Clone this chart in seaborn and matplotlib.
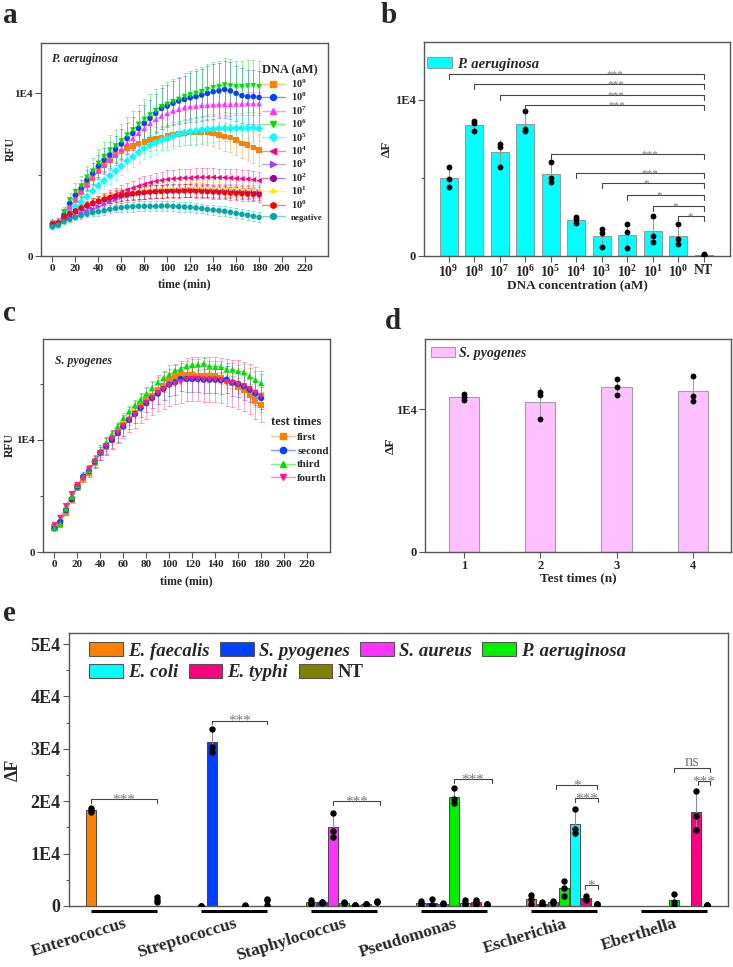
import numpy as np
import pandas as pd
import matplotlib
matplotlib.use("Agg")
import matplotlib.pyplot as plt
import seaborn as sns
from matplotlib.lines import Line2D
from matplotlib.patches import Patch
from matplotlib.ticker import FixedLocator, FixedFormatter
import matplotlib.transforms as mtrans
from matplotlib.colors import to_rgba

sns.set_style("ticks")
plt.rcParams['font.family'] = ['Liberation Serif', 'DejaVu Serif']
plt.rcParams['font.weight'] = 'bold'
plt.rcParams['axes.labelweight'] = 'bold'
plt.rcParams['mathtext.fontset'] = 'custom'
plt.rcParams['mathtext.rm'] = 'Liberation Serif'
plt.rcParams['mathtext.bf'] = 'Liberation Serif:bold'
plt.rcParams['mathtext.it'] = 'Liberation Serif:italic'

# ---------------- data: panel a (P. aeruginosa kinetics) ----------------
time_min = list(range(0, 181, 5))
a_labels = ['10^9', '10^8', '10^7', '10^6', '10^5', '10^4', '10^3', '10^2', '10^1', '10^0', 'negative']
a_1e9 = [2000,2000,2410,2920,3440,3890,4360,4760,5210,5580,5890,6200,6400,6610,6750,6910,7010,7120,7220,7280,7360,7420,7480,7530,7570,7590,7610,7590,7530,7420,7320,7260,7120,6910,6810,6670,6500]
a_1e8 = [1960,1960,2520,3230,3740,4150,4660,5070,5520,5890,6200,6540,6870,7220,7530,7830,8140,8450,8750,9060,9200,9370,9510,9610,9710,9780,9880,9980,10080,10140,10220,10140,9980,9840,9780,9780,9730]
a_1e7 = [2110,2210,2410,3030,3480,3950,4360,4830,5210,5580,5890,6200,6540,6910,7220,7530,7830,8140,8380,8590,8750,8900,9000,9100,9160,9200,9240,9260,9280,9300,9310,9310,9330,9330,9350,9350,9350]
a_1e6 = [2000,2000,2720,3440,3950,4290,4830,5210,5690,6090,6500,6750,7060,7420,7730,8080,8380,8650,8920,9160,9300,9470,9610,9780,9880,9980,10080,10220,10330,10390,10490,10430,10390,10390,10430,10450,10390]
a_1e5 = [1800,1900,2210,2620,3030,3330,3640,3990,4310,4620,4930,5210,5520,5830,6090,6360,6610,6810,6950,7120,7220,7360,7480,7570,7630,7670,7730,7770,7790,7830,7830,7830,7830,7850,7850,7870,7830]
a_1e4 = [2000,2000,2310,2520,2720,2880,3030,3190,3330,3480,3640,3780,3910,4050,4170,4290,4400,4500,4580,4640,4700,4740,4760,4790,4790,4830,4830,4830,4830,4810,4810,4790,4760,4740,4720,4680,4620]
a_1e3 = [1900,1950,2150,2300,2450,2590,2720,2880,3030,3180,3330,3460,3600,3680,3760,3830,3890,3920,3950,3970,3990,4010,4030,4040,4050,4050,4050,4040,4030,4020,4010,4000,3990,3970,3960,3950,3930]
a_1e2 = [1950,1980,2350,2560,2740,2920,3080,3220,3350,3460,3560,3650,3720,3780,3830,3870,3900,3930,3960,3980,4000,4010,4020,4020,4020,4010,4000,3990,3980,3960,3950,3930,3910,3890,3870,3850,3830]
a_1e1 = [1980,2000,2400,2600,2780,2960,3120,3270,3400,3520,3630,3720,3800,3870,3920,3970,4010,4050,4080,4100,4120,4130,4140,4150,4150,4150,4140,4140,4130,4120,4110,4100,4090,4080,4070,4060,4050]
a_1e0 = [1960,2040,2410,2620,2780,2970,3130,3270,3390,3500,3600,3680,3740,3800,3840,3890,3910,3930,3950,3950,3970,3970,3970,3990,3990,3970,3950,3930,3910,3890,3870,3840,3820,3800,3780,3760,3740]
a_neg = [1800,1900,2110,2250,2370,2470,2580,2660,2720,2780,2860,2920,2970,3010,3030,3050,3050,3050,3050,3070,3070,3050,3030,3010,2990,2950,2910,2860,2820,2780,2740,2680,2620,2560,2500,2440,2370]

e_1e9 = [150,150,200,250,300,350,400,450,500,550,550,600,600,650,650,700,700,700,700,700,700,700,700,700,750,750,750,800,800,800,850,850,900,900,950,950,1000]
e_1e8 = [150,200,250,300,400,500,600,650,700,750,800,850,900,950,1000,1050,1100,1150,1200,1250,1300,1350,1400,1450,1500,1550,1600,1650,1700,1700,1750,1750,1700,1700,1650,1650,1650]
e_1e7 = [150,150,200,250,300,350,400,450,500,550,600,600,650,650,700,700,700,700,700,700,700,700,700,700,700,700,700,700,700,700,700,700,700,700,700,700,700]
e_1e6 = [150,200,300,400,500,600,700,800,850,900,950,1000,1050,1100,1150,1200,1250,1300,1300,1350,1350,1400,1400,1450,1450,1500,1500,1550,1600,1600,1650,1650,1600,1600,1600,1600,1600]
e_1e5 = [120,150,200,250,300,350,400,450,450,500,500,550,550,600,600,650,650,700,700,700,700,750,750,750,750,800,800,800,800,800,800,800,800,800,800,800,800]
e_1e4 = [120,120,150,200,250,300,300,350,350,400,400,400,450,450,450,500,500,500,500,500,550,550,550,550,550,550,550,550,550,550,550,550,550,550,550,550,550]
e_1e3 = [100,100,150,150,200,200,250,250,300,300,300,350,350,350,350,400,400,400,400,400,400,400,400,400,400,400,400,400,400,400,400,400,400,400,400,400,400]
e_1e2 = [100,100,150,150,200,200,250,250,300,300,300,350,350,350,350,350,400,400,400,400,400,400,400,400,400,400,400,400,400,400,400,400,400,400,400,400,400]
e_1e1 = [100,120,150,150,200,200,250,250,300,300,300,350,350,350,350,400,400,400,400,400,400,400,400,400,400,400,400,400,400,400,400,400,400,400,400,400,400]
e_1e0 = [100,100,150,150,200,250,250,300,300,300,350,350,350,350,400,400,400,400,400,400,400,400,400,400,400,400,400,400,400,400,400,400,400,400,400,400,400]
e_neg = [100,100,120,150,150,200,200,200,250,250,250,250,300,300,300,300,300,300,300,300,300,300,300,300,300,300,300,300,300,300,300,300,300,300,300,300,300]

# ---------------- data: panel b ----------------
b_conc = ['10^9', '10^8', '10^7', '10^6', '10^5', '10^4', '10^3', '10^2', '10^1', '10^0', 'NT']
b_rep1 = [5700, 8620, 7170, 9260, 6040, 2490, 1720, 2020, 2550, 2020, 150]
b_rep2 = [4910, 8510, 6980, 8150, 4960, 2340, 1450, 1510, 1280, 1090, 85]
b_rep3 = [4400, 7980, 5700, 8000, 4700, 2130, 600, 490, 870, 740, 40]
b_sig = ['***', '***', '***', '***', '***', '***', '*', '*', '*', '*']
b_sig_y = [11620, 10980, 10320, 9680, 6510, 5320, 4640, 3910, 3210, 2570]

# ---------------- data: panel c (S. pyogenes repeatability) ----------------
c_labels = ['first', 'second', 'third', 'fourth']
c_first = [2180,2390,3490,4630,5820,6570,7070,7910,8810,9400,10000,10600,11340,11790,12390,12990,13580,13940,14480,14780,15310,15610,15760,15820,15820,15730,15730,15670,15730,15520,15220,15070,14690,14480,14030,13520,13130]
c_second = [2090,2690,3730,4720,5820,6720,7220,8060,8870,9460,10000,10600,11190,11790,12300,12840,13280,13730,14120,14540,14930,15130,15430,15430,15430,15430,15370,15370,15370,15310,15370,15130,14990,14780,14480,14120,13730]
c_third = [2180,2540,3880,4930,5970,6720,7310,8210,9010,9760,10510,11190,11940,12540,13070,13580,14120,14630,15130,15520,15820,16180,16330,16570,16690,16720,16810,16570,16510,16510,16270,16270,16120,16030,15670,15370,15070]
c_fourth = [2390,3040,4090,5160,5970,6570,7370,8060,8810,9460,10060,10600,11190,11790,12240,12840,13280,13730,14180,14480,14840,14990,15160,15370,15430,15430,15370,15370,15370,15280,15130,15070,14930,14780,14540,14180,13880]
ce_first = [100,150,200,250,250,300,300,350,350,400,400,400,400,450,450,450,500,500,500,500,500,500,550,550,550,550,550,550,550,550,550,550,550,600,600,600,600]
ce_second = [100,150,200,250,300,400,500,600,700,800,800,800,800,800,800,800,800,900,900,1000,1000,1100,1100,1200,1200,1200,1200,1200,1200,1200,1200,1200,1200,1200,1100,1000,1000]
ce_third = [100,150,200,250,300,300,350,350,400,400,400,450,450,450,500,500,500,500,500,500,500,500,500,500,500,500,500,500,500,500,600,600,600,700,700,800,800]
ce_fourth = [100,150,200,250,300,350,400,500,600,700,800,900,1000,1100,1200,1300,1400,1500,1600,1700,1800,1800,1900,1900,2000,2000,2000,2000,2000,2000,2100,2100,2200,2200,2200,2300,2300]

# ---------------- data: panel d ----------------
d_test = ['1', '2', '3', '4']
d_rep1 = [11050, 11240, 12150, 12320]
d_rep2 = [10890, 11030, 11590, 10960]
d_rep3 = [10660, 9320, 11030, 10610]

# ---------------- data: panel e (specificity) ----------------
e_genus = ['Enterococcus', 'Streptococcus', 'Staphylococcus', 'Pseudomonas', 'Escherichia', 'Eberthella']
e_species = ['E. faecalis', 'S. pyogenes', 'S. aureus', 'P. aeruginosa', 'E. coli', 'E. typhi', 'NT']
# replicate values [genus][species] (None = no measurement shown)
e_rep1 = [[18620, None, None, None, None, None, 1700],
          [60, 33740, None, None, 120, None, 1280],
          [1090, 770, 17670, 770, 270, 460, 900],
          [900, 1410, 650, 22450, 1090, 1200, 400],
          [2040, 770, 960, 4780, 18560, 1850, 450],
          [None, None, None, 2360, None, 21940, 250]]
e_rep2 = [[18300, None, None, None, None, None, 1200],
          [40, 30420, None, None, 90, None, 1100],
          [650, 700, 14300, 650, 250, 400, 850],
          [600, 200, 450, 20340, 500, 700, 380],
          [1280, 400, 700, 3510, 14670, 1400, 420],
          [None, None, None, 800, None, 17220, 220]]
e_rep3 = [[17860, None, None, None, None, None, 770],
          [20, 29460, None, None, 60, None, 200],
          [400, 600, 13200, 500, 200, 350, 800],
          [250, 100, 300, 19580, 300, 400, 350],
          [450, 200, 600, 1910, 13970, 1080, 400],
          [None, None, None, 100, None, 14410, 200]]
e_colors = ['#FF8000', '#0040FF', '#FF33FF', '#00F000', '#00FFFF', '#FF0080', '#808000']

# ======================================================================
fig = plt.figure(figsize=(7.33, 9.67), dpi=100)
W, H = 733.0, 967.0
def add_ax(x0, y0, x1, y1):
    return fig.add_axes([x0 / W, 1 - y1 / H, (x1 - x0) / W, (y1 - y0) / H])

SPC = '#555555'
def style(ax, fs):
    for s in ax.spines.values():
        s.set_color(SPC)
        s.set_linewidth(1.0)
    ax.tick_params(which='both', direction='out', color=SPC, width=0.8,
                   top=False, right=False, labelsize=fs, pad=2)
    ax.tick_params(which='major', length=4)
    ax.tick_params(which='minor', length=2.5)

def yticks(ax, major, labels, minor=()):
    ax.yaxis.set_major_locator(FixedLocator(major))
    ax.yaxis.set_major_formatter(FixedFormatter(labels))
    ax.yaxis.set_minor_locator(FixedLocator(list(minor)))

def mt(s):
    if '^' in s:
        b, e = s.split('^')
        return r'$\mathbf{%s^{%s}}$' % (b, e)
    return s

def bracket(ax, x1, x2, y, h, text, tx, fs, dy=-3, color='#444444'):
    ax.plot([x1, x1, x2, x2], [y - h, y, y, y - h], color=color, lw=0.8,
            clip_on=False, zorder=6)
    ax.annotate(text, xy=(tx, y), xytext=(0, dy), textcoords='offset points',
                ha='center', va='baseline', color='#777777', fontsize=fs,
                fontweight='normal', zorder=6)

# ---------------- panel a ----------------
ax = add_ax(41, 43, 328, 256)
a_series = [a_1e9, a_1e8, a_1e7, a_1e6, a_1e5, a_1e4, a_1e3, a_1e2, a_1e1, a_1e0, a_neg]
a_errs = [e_1e9, e_1e8, e_1e7, e_1e6, e_1e5, e_1e4, e_1e3, e_1e2, e_1e1, e_1e0, e_neg]
a_colors = ['#FF8000', '#0040FF', '#FF33FF', '#00E000', '#00FFFF', '#FF0080',
            '#A040FF', '#A000A0', '#FFEE00', '#FF0000', '#00A8A8']
a_markers = ['s', 'o', '^', 'v', 'D', '<', '>', 'o', '*', 'h', 'o']
dfa = pd.concat([pd.DataFrame({'time': time_min, 'RFU': v, 'err': e, 'DNA': lab})
                 for v, e, lab in zip(a_series, a_errs, a_labels)], ignore_index=True)
pal_a = dict(zip(a_labels, a_colors))
for lab, c in zip(a_labels, a_colors):
    sub = dfa[dfa.DNA == lab]
    ax.errorbar(sub.time, sub.RFU, yerr=sub.err, fmt='none', ecolor=c, alpha=0.4,
                elinewidth=0.7, capsize=1.5, capthick=0.7, zorder=1)
sns.lineplot(data=dfa, x='time', y='RFU', hue='DNA', palette=pal_a, alpha=0.45,
             lw=0.9, legend=False, ax=ax, errorbar=None, sort=False, zorder=2)
sns.scatterplot(data=dfa, x='time', y='RFU', hue='DNA', style='DNA', palette=pal_a,
                markers=dict(zip(a_labels, a_markers)), s=16, linewidth=0,
                legend=False, ax=ax, zorder=3)
style(ax, 8)
ax.set_xlim(-10, 240)
ax.set_ylim(0, 13070)
ax.set_xticks(list(range(0, 221, 20)))
yticks(ax, [0, 10000], ['0', '1E4'], [5000])
ax.set_xlabel('time (min)', fontsize=8.5)
ax.set_ylabel('RFU', fontsize=8.5)
ax.xaxis.set_label_coords(0.5, -0.103)
ax.yaxis.set_label_coords(-0.084, 0.5)
ax.text(0.038, 0.925, 'P. aeruginosa', transform=ax.transAxes, fontsize=8.5,
        style='italic', fontweight='bold', va='center')
handles = [Line2D([], [], color=to_rgba(c, 0.5), marker=m, mfc=c, mec=c, ms=4.2, lw=1)
           for c, m in zip(a_colors, a_markers)]
leg_labels = [mt(l) for l in a_labels]
leg = ax.legend(handles, leg_labels, title='DNA (aM)', loc='upper left',
                bbox_to_anchor=(0.77, 0.9), frameon=False, fontsize=7.5,
                title_fontproperties={'weight': 'bold', 'size': 9},
                handlelength=2.2, handletextpad=0.6, labelspacing=0.1,
                handleheight=1.0, borderaxespad=0, borderpad=0, alignment='left')
for t in leg.get_texts():
    if t.get_text() == 'negative':
        t.set_fontsize(6.5)

# ---------------- panel b ----------------
ax = add_ax(424, 42, 730, 256)
b_lab = [mt(c) for c in b_conc]
dfb = pd.concat([pd.DataFrame({'conc': b_lab, 'dF': r}) for r in (b_rep1, b_rep2, b_rep3)],
                ignore_index=True)
sns.barplot(data=dfb, x='conc', y='dF', order=b_lab, color='#00FFFF', saturation=1,
            width=0.69, errorbar='sd', edgecolor='#9a9a9a', linewidth=0.8,
            err_kws={'color': '#9a9a9a', 'linewidth': 0.8}, capsize=0, ax=ax)
sns.stripplot(data=dfb, x='conc', y='dF', order=b_lab, jitter=False, color='black',
              size=4.2, ax=ax, zorder=5)
style(ax, 9)
ax.tick_params(axis='x', labelsize=10)
ax.set_xlim(-0.97, 11.03)
ax.set_ylim(0, 13680)
yticks(ax, [0, 10000], ['0', '1E4'], [5000])
ax.set_xlabel('DNA concentration (aM)', fontsize=9.5)
ax.set_ylabel('ΔF', fontsize=9.5)
ax.xaxis.set_label_coords(0.5, -0.107)
ax.yaxis.set_label_coords(-0.101, 0.5)
b_text_x = [6.5, 6.55, 6.55, 6.6, 7.87, 7.87, 7.74, 8.26, 8.89, 9.46]
for i, (s, y) in enumerate(zip(b_sig, b_sig_y)):
    bracket(ax, i, 10, y, 320, s, b_text_x[i], 8, dy=-2.2)
ax.legend([Patch(facecolor='#00FFFF', edgecolor='#9a9a9a', lw=0.8)], ['P. aeruginosa'],
          loc='upper left', bbox_to_anchor=(-0.01, 0.957), frameon=False,
          prop={'style': 'italic', 'weight': 'bold', 'size': 10.5},
          handlelength=1.75, handleheight=0.8, handletextpad=0.3, borderaxespad=0)

# ---------------- panel c ----------------
ax = add_ax(43, 339, 330, 552)
c_series = [c_first, c_second, c_third, c_fourth]
c_errs = [ce_first, ce_second, ce_third, ce_fourth]
c_colors = ['#FF8000', '#0040FF', '#00E000', '#FF1A8C']
c_markers = ['s', 'o', '^', 'v']
dfc = pd.concat([pd.DataFrame({'time': time_min, 'RFU': v, 'err': e, 'test': lab})
                 for v, e, lab in zip(c_series, c_errs, c_labels)], ignore_index=True)
pal_c = dict(zip(c_labels, c_colors))
for lab, c in zip(c_labels, c_colors):
    sub = dfc[dfc.test == lab]
    ax.errorbar(sub.time, sub.RFU, yerr=sub.err, fmt='none', ecolor=c, alpha=0.4,
                elinewidth=0.7, capsize=1.8, capthick=0.7, zorder=1)
sns.lineplot(data=dfc, x='time', y='RFU', hue='test', palette=pal_c, alpha=0.45,
             lw=0.9, legend=False, ax=ax, errorbar=None, sort=False, zorder=2)
sns.scatterplot(data=dfc, x='time', y='RFU', hue='test', style='test', palette=pal_c,
                markers=dict(zip(c_labels, c_markers)), s=20, linewidth=0,
                legend=False, ax=ax, zorder=3)
style(ax, 8)
ax.set_xlim(-10, 240)
ax.set_ylim(0, 19000)
ax.set_xticks(list(range(0, 221, 20)))
yticks(ax, [0, 10000], ['0', '1E4'], [5000, 15000])
ax.set_xlabel('time (min)', fontsize=8.5)
ax.set_ylabel('RFU', fontsize=8.5)
ax.xaxis.set_label_coords(0.5, -0.108)
ax.yaxis.set_label_coords(-0.094, 0.5)
ax.text(0.042, 0.897, 'S. pyogenes', transform=ax.transAxes, fontsize=8.5,
        style='italic', fontweight='bold', va='center')
handles = [Line2D([], [], color=to_rgba(c, 0.5), marker=m, mfc=c, mec=c, ms=4.5, lw=1)
           for c, m in zip(c_colors, c_markers)]
ax.legend(handles, c_labels, title='test times', loc='upper left',
          bbox_to_anchor=(0.795, 0.637), frameon=False, fontsize=7.8,
          title_fontproperties={'weight': 'bold', 'size': 9},
          handlelength=2.2, handletextpad=0.2, labelspacing=0.38,
          borderaxespad=0, borderpad=0, alignment='left')

# ---------------- panel d ----------------
ax = add_ax(425, 339, 731, 552)
dfd = pd.concat([pd.DataFrame({'test': d_test, 'dF': r}) for r in (d_rep1, d_rep2, d_rep3)],
                ignore_index=True)
sns.barplot(data=dfd, x='test', y='dF', order=d_test, color='#FFC0FF', saturation=1,
            width=0.40, errorbar='sd', edgecolor='#a0a0a0', linewidth=0.8,
            err_kws={'color': '#a0a0a0', 'linewidth': 0.8}, capsize=0, ax=ax)
sns.stripplot(data=dfd, x='test', y='dF', order=d_test, jitter=False, color='black',
              size=4.2, ax=ax, zorder=5)
style(ax, 9)
ax.set_xlim(-0.51, 3.5)
ax.set_ylim(0, 14920)
yticks(ax, [0, 10000], ['0', '1E4'])
ax.set_xlabel('Test times (n)', fontsize=9.5)
ax.set_ylabel('ΔF', fontsize=9.5)
ax.xaxis.set_label_coords(0.5, -0.094)
ax.yaxis.set_label_coords(-0.0915, 0.5)
ax.legend([Patch(facecolor='#FFC0FF', edgecolor='#a0a0a0', lw=0.8)], ['S. pyogenes'],
          loc='upper left', bbox_to_anchor=(0.0, 0.99), frameon=False,
          prop={'style': 'italic', 'weight': 'bold', 'size': 10},
          handlelength=1.75, handleheight=0.8, handletextpad=0.3, borderaxespad=0)

# ---------------- panel e ----------------
ax = add_ax(69, 633, 728, 906)
rows = []
for g in range(len(e_genus)):
    for s in range(len(e_species)):
        for reps in (e_rep1, e_rep2, e_rep3):
            v = reps[g][s]
            if v is not None:
                rows.append({'pos': 10 * g + s, 'species': e_species[s], 'dF': v})
dfe = pd.DataFrame(rows)
pal_e = dict(zip(e_species, e_colors))
sns.barplot(data=dfe[dfe.species != 'NT'], x='pos', y='dF', hue='species',
            hue_order=e_species, palette=pal_e, saturation=1, native_scale=True,
            dodge=False, width=0.94, errorbar='sd', edgecolor='#333333', linewidth=0.6,
            err_kws={'color': '#8a8a8a', 'linewidth': 0.8}, capsize=0, legend=False, ax=ax)
sns.stripplot(data=dfe, x='pos', y='dF', native_scale=True, jitter=False, color='black',
              size=4.6, ax=ax, zorder=5)
style(ax, 13)
ax.set_xlim(-1.97, 57.9)
ax.set_ylim(0, 52100)
yticks(ax, [0, 10000, 20000, 30000, 40000, 50000],
       ['0', '1E4', '2E4', '3E4', '4E4', '5E4'],
       [5000, 15000, 25000, 35000, 45000])
ax.set_xticks([10 * g + 3 for g in range(len(e_genus))])
ax.set_xticklabels(e_genus, rotation=17, ha='right', va='top', rotation_mode='anchor',
                   fontsize=12.5)
ax.tick_params(axis='x', length=0, pad=7)
ax.set_xlabel('')
ax.set_ylabel('ΔF', fontsize=13)
ax.yaxis.set_label_coords(-0.072, 0.5)
trans = mtrans.blended_transform_factory(ax.transData, ax.transAxes)
for g in range(len(e_genus)):
    ax.plot([10 * g, 10 * g + 6], [-0.019, -0.019], transform=trans, clip_on=False,
            color='black', lw=2.2, solid_capstyle='butt')
# significance brackets: (x1, x2, y, text)
e_br = [(0, 6, 20340, '***'), (11, 16, 35400, '***'), (22, 26.3, 19960, '***'),
        (33, 36.5, 24230, '***'), (42.3, 46, 23090, '*'), (44, 46.1, 20540, '***'),
        (44.9, 46.1, 3960, '*'), (53, 56.3, 26400, 'ns'), (55.15, 56.3, 23860, '***')]
for x1, x2, y, t in e_br:
    if t == 'ns':
        bracket(ax, x1, x2, y, 750, t, (x1 + x2) / 2, 12, dy=1.5)
    else:
        bracket(ax, x1, x2, y, 750, t, (x1 + x2) / 2, 11, dy=-3)
h1 = [Patch(facecolor=c, edgecolor='#555555', lw=0.8) for c in e_colors]
eprop = {'style': 'italic', 'weight': 'bold', 'size': 13.5}
leg1 = ax.legend(h1[:4], e_species[:4], loc='upper left', bbox_to_anchor=(0.019, 0.995),
                 ncol=4, frameon=False, prop=eprop,
                 handlelength=1.8, handleheight=0.8, handletextpad=0.28,
                 columnspacing=0.55, borderaxespad=0)
ax.add_artist(leg1)
leg2 = ax.legend(h1[4:], e_species[4:], loc='upper left', bbox_to_anchor=(0.019, 0.915),
                 ncol=3, frameon=False, prop=eprop,
                 handlelength=1.8, handleheight=0.8, handletextpad=0.28,
                 columnspacing=0.55, borderaxespad=0)
for t in leg2.get_texts():
    if t.get_text() == 'NT':
        t.set_fontstyle('normal')

# ---------------- panel letters ----------------
for lt, x, y in [('a', 3, 23), ('b', 381, 23), ('c', 3, 321), ('d', 385, 329), ('e', 3, 621)]:
    fig.text(x / W, 1 - y / H, lt, fontsize=21, fontweight='bold', ha='left', va='baseline')

fig.savefig('out.png', dpi=100)
